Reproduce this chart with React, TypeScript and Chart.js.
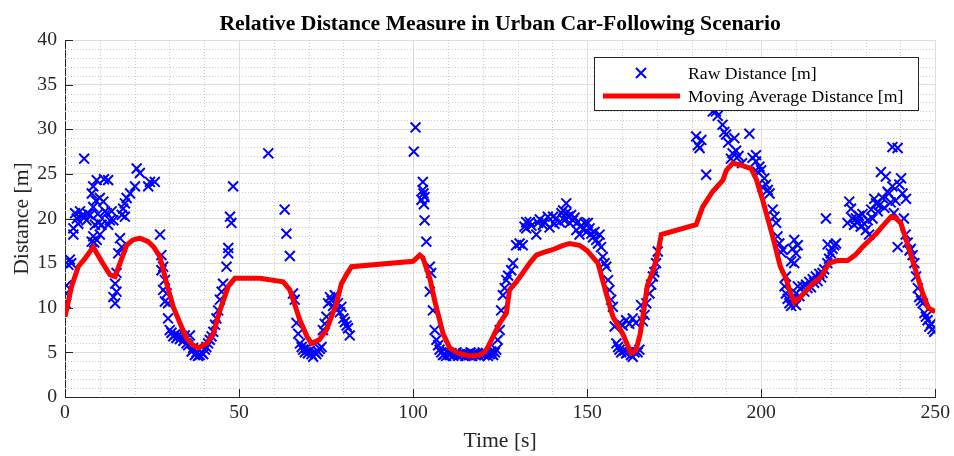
import React, { useEffect, useRef } from "react";
import { Chart, registerables } from "chart.js";

Chart.register(...registerables);

const TITLE = "Relative Distance Measure in Urban Car-Following Scenario";
const X_LABEL = "Time [s]";
const Y_LABEL = "Distance [m]";
const RAW_LABEL = "Raw Distance [m]";
const AVG_LABEL = "Moving Average Distance [m]";

const X_RANGE = [0, 250];
const X_MAJOR = 50;
const X_MINOR = 10;
const Y_RANGE = [0, 40];
const Y_MAJOR = 5;
const Y_MINOR = 1;

// [time s, distance m]
const rawSamples: [number, number][] = [
  [0.2, 10.5], [0.3, 11.6], [0.4, 12.5], [1, 14.8], [1.4, 15.4], [1.8, 15.0], [2.4, 18.2], [2.4, 18.9],
  [2.9, 20.6], [3.4, 20.0], [3.8, 19.4], [4.3, 20.8], [4.8, 20.3], [5.3, 20.2], [5.5, 26.7], [6.2, 19.8],
  [6.6, 20.5], [7.2, 20.4], [7.7, 22.8], [7.7, 17.4], [8.1, 23.6], [8.1, 21.3], [8.1, 18.0], [8.4, 17.3],
  [8.6, 19.3], [8.9, 22.0], [9.1, 24.3], [9.1, 17.6], [9.4, 20.5], [9.6, 19.5], [10, 22.3], [10, 18.2],
  [10.5, 19.3], [11, 21.9], [11.2, 24.4], [11.5, 20.8], [12, 20.6], [12.4, 24.3], [12.4, 19.3], [12.9, 19.8],
  [13.4, 20.8], [13.9, 19.8], [13.9, 11.2], [14.4, 12.7], [14.4, 10.5], [14.8, 13.9], [14.8, 11.8], [15.3, 16.1],
  [15.8, 17.8], [16.3, 16.8], [16.3, 20.4], [16.7, 21.1], [17.2, 21.7], [17.2, 20.2], [17.7, 22.3], [18.7, 22.8],
  [20.1, 23.6], [20.6, 25.6], [21.5, 25.1], [23.9, 23.6], [24.4, 24.1], [25.8, 24.1], [27.3, 18.2], [27.7, 15.9],
  [27.7, 14.2], [28.2, 14.6], [28.2, 12.0], [28.7, 13.1], [28.7, 10.7], [29.2, 11.6], [29.6, 10.5], [29.6, 8.8],
  [30.1, 7.5], [30.6, 7.2], [31.1, 6.8], [31.6, 7.0], [32, 6.6], [32.5, 6.9], [33, 6.5], [33.5, 6.8],
  [34, 6.3], [34.4, 6.9], [34.9, 6.0], [35.4, 5.8], [35.9, 6.9], [36.4, 5.1], [36.8, 5.5], [37.3, 4.7],
  [37.8, 5.0], [38.2, 4.6], [38.7, 4.7], [39.2, 5.0], [39.7, 4.8], [40.2, 5.3], [40.6, 5.6], [41.1, 6.0],
  [41.6, 6.4], [42.1, 6.8], [42.6, 7.3], [43.1, 8.1], [43.5, 8.8], [44, 9.7], [44.5, 10.9], [45, 11.8],
  [45.4, 12.7], [46.4, 14.6], [46.9, 16.1], [46.9, 16.7], [47.4, 20.2], [47.8, 19.5], [48.3, 23.6],
  [58.4, 27.3], [63.1, 21.0], [63.6, 18.3], [64.6, 15.8], [65.5, 11.6], [66, 10.9], [66.5, 8.3], [67, 7.1],
  [67.5, 6.0], [68, 5.6], [68.4, 5.3], [68.9, 5.0], [69.4, 5.5], [69.8, 4.9], [70.3, 5.2], [70.8, 4.8],
  [71.3, 4.5], [71.8, 5.0], [72.2, 4.8], [72.7, 5.1], [73.2, 5.4], [73.7, 5.6], [74.1, 7.5], [74.6, 8.2],
  [75.1, 9.0], [75.6, 10.5], [76.1, 11.2], [76.6, 10.8], [77, 10.2], [77.5, 11.4], [78, 9.8], [78.4, 10.5],
  [79, 9.5], [79.4, 10.1], [80, 8.8], [80.4, 8.4], [80.9, 8.0], [81.3, 7.7], [81.8, 6.9],
  [100.2, 27.5], [100.7, 30.2], [102.4, 22.1], [102.8, 24.1], [102.8, 23.2], [103, 22.8], [103.1, 21.6], [103.3, 22.4],
  [103.3, 19.8], [103.8, 17.4], [104.8, 14.6], [105.2, 13.9], [104.8, 11.8], [105.7, 9.7], [106.2, 7.5], [106.7, 6.4],
  [107.2, 5.8], [107.6, 5.3], [108.1, 5.0], [108.6, 4.7], [109, 4.8], [109.5, 4.6], [110, 5.0], [110.5, 4.7],
  [111, 4.9], [111.5, 4.6], [112, 4.8], [112.5, 5.0], [113, 4.6], [113.5, 4.8], [114, 4.7], [114.5, 4.9],
  [115, 4.6], [115.5, 4.8], [116, 4.7], [116.5, 5.0], [117, 4.6], [117.5, 4.8], [118, 4.7], [118.5, 4.9],
  [119, 4.6], [119.5, 4.8], [120, 5.0], [120.5, 4.7], [121, 4.9], [121.5, 4.6], [122, 4.8], [122.5, 5.1],
  [123, 4.7], [123.5, 5.0], [123.9, 5.3], [124.3, 6.4], [124.9, 7.5], [125.3, 9.7], [125.8, 11.4], [126.3, 12.2],
  [126.8, 13.1], [127.3, 13.6], [128.2, 14.2], [128.7, 15.0], [129.6, 17.0], [130.6, 17.2], [131.5, 17.0], [132, 19.1],
  [132.5, 18.9], [132.5, 19.6], [133.5, 19.6], [134, 19.2], [135.4, 18.2], [135.9, 19.5], [136.4, 19.9], [137.3, 19.3],
  [137.8, 19.6], [138.7, 20.2], [139.2, 19.0], [140.2, 20.2], [140.6, 19.4], [141.1, 20.0], [142.1, 19.6], [142.6, 20.6],
  [143.1, 20.9], [143.5, 19.8], [144, 21.7], [144, 20.6], [144.5, 20.2], [145, 19.5], [145.4, 20.4], [145.9, 19.8],
  [146.4, 20.1], [146.9, 18.7], [147.3, 19.6], [147.8, 18.2], [148.3, 19.2], [148.8, 18.8], [149.3, 19.5], [149.8, 18.5],
  [150.2, 19.5], [150.7, 18.9], [151.2, 18.3], [151.7, 17.9], [152.1, 18.5], [152.6, 17.6], [153.1, 17.2], [153.6, 18.2],
  [154, 16.8], [154.5, 15.7], [155, 15.0], [155.5, 14.6], [156, 13.1], [156.4, 12.0], [156.9, 10.9], [157.4, 10.1],
  [157.9, 7.9], [158.4, 6.0], [158.9, 5.6], [159.3, 5.3], [159.3, 8.3], [159.8, 5.0], [160.2, 8.0], [160.7, 5.2],
  [161.2, 4.9], [161.2, 8.6], [161.7, 5.0], [162.1, 8.2], [162.6, 4.7], [163.1, 4.5], [163.1, 8.8], [163.6, 5.0],
  [164, 8.3], [164.5, 5.0], [165, 5.3], [165.5, 10.3], [166, 8.5], [166.5, 9.2], [167, 10.5], [167.9, 11.6],
  [168.4, 12.6], [168.9, 13.5], [169.3, 14.0], [169.8, 15.0], [170.3, 16.3],
  [181.3, 29.2], [181.8, 28.2], [182.3, 27.9], [182.8, 28.8], [184.2, 24.9], [186.1, 32.0], [187, 32.0], [187.5, 31.5],
  [188.9, 30.5], [189.4, 29.7], [189.9, 29.4], [190.5, 28.5], [191.3, 26.7], [191.8, 27.3], [192.3, 29.0], [192.8, 27.6],
  [193.5, 27.0], [194.5, 26.2], [196.6, 29.5], [197.5, 26.8], [198.5, 27.1], [198.5, 26.4], [199, 25.2], [199.5, 25.8],
  [200, 25.4], [200.4, 23.5], [200.9, 24.5], [201.4, 23.8], [201.9, 23.2], [202.4, 22.8], [203.3, 21.0], [203.8, 20.2],
  [204.3, 19.5], [204.7, 18.0], [205.2, 17.2], [205.7, 16.2], [206.2, 16.5], [206.7, 12.4], [207.1, 13.5], [207.1, 11.6],
  [207.6, 11.0], [208.1, 10.5], [208.6, 15.2], [208.6, 10.2], [209, 16.6], [209.1, 10.9], [209.1, 11.1], [209.5, 15.0],
  [209.5, 17.6], [210, 16.1], [210, 11.6], [210, 10.3], [210.5, 17.0], [210.5, 12.4], [211, 11.3], [211.9, 12.4],
  [212.4, 11.8], [212.9, 12.6], [213.3, 12.2], [213.8, 12.9], [214.3, 12.3], [214.8, 13.2], [215.2, 12.8], [215.7, 13.5],
  [216.2, 13.0], [216.7, 13.8], [217.2, 13.4], [217.6, 13.9], [218.1, 14.3], [218.6, 20.0], [219, 15.0], [219.1, 17.1],
  [219.5, 15.5], [220, 16.1], [220.5, 16.6], [221, 17.0], [221.5, 17.2], [224.8, 19.5], [225.3, 21.9], [225.8, 21.1],
  [226.2, 20.0], [226.7, 19.3], [227.2, 20.0], [227.7, 19.6], [228.1, 20.3], [228.6, 19.1], [229.1, 20.5], [229.6, 19.4],
  [230.1, 18.7], [230.6, 19.8], [231, 18.2], [231.6, 21.0], [232, 20.0], [232.5, 22.2], [233, 21.7], [233.5, 20.8],
  [234, 21.5], [234.4, 25.2], [234.9, 22.3], [235.4, 21.2], [235.8, 24.7], [236.3, 23.0], [236.7, 22.8], [237.2, 21.8],
  [237.7, 23.6], [237.7, 28.0], [238.1, 20.6], [238.6, 22.0], [239.2, 27.9], [239.2, 16.8], [239.7, 23.8], [240.2, 24.5],
  [240.6, 22.8], [241, 20.0], [241.5, 18.2], [241.6, 22.2], [242.1, 17.3], [242.6, 16.4], [243, 16.6], [243.5, 15.9],
  [244, 15.0], [244.5, 13.5], [245, 12.2], [245.4, 11.2], [245.9, 10.8], [246.4, 10.5], [246.9, 9.4], [247.3, 9.0],
  [247.8, 8.6], [248.3, 7.9], [248.8, 8.2], [249.2, 7.6], [249.7, 7.3],
];

// [time s, moving-average distance m]
const movingAverage: [number, number][] = [
  [0, 9.0], [1.9, 12.4], [3.8, 14.6], [5.7, 15.5], [8.1, 16.8], [10.5, 15.2], [12.9, 13.7], [14.4, 13.5],
  [15.8, 15.0], [17.7, 17.0], [19.5, 17.6], [21.5, 17.8], [23.9, 17.4], [25.5, 16.8], [27.3, 15.7], [29.2, 12.7],
  [31.1, 10.1], [33, 8.3], [34.9, 6.6], [36.5, 5.9], [38.3, 5.5], [40.7, 6.0], [42.6, 7.1], [44.5, 9.7],
  [46.9, 12.4], [48.8, 13.3], [56, 13.3], [62.7, 12.9], [64.6, 12.0], [67.5, 8.6], [69.5, 6.8], [70.8, 6.0],
  [73, 6.4], [75.1, 7.5], [78, 10.5], [79.4, 12.7], [81, 13.8], [82.3, 14.6], [100, 15.2], [101.9, 15.9],
  [102.8, 15.6], [104.8, 13.3], [106.2, 10.8], [108.6, 7.1], [110.5, 5.5], [113, 4.9], [116.2, 4.6], [119, 4.7],
  [120.5, 5.0], [121.5, 5.6], [123, 6.8], [124.9, 8.3], [126.8, 9.4], [127.7, 12.0], [129.5, 12.8], [131.5, 13.9],
  [133.5, 15.0], [135.4, 15.9], [137.5, 16.2], [140.1, 16.5], [142.5, 16.9], [144.9, 17.2], [147.8, 17.0], [150, 16.4],
  [153.1, 15.0], [155.5, 11.6], [157.4, 9.0], [160.2, 7.1], [162.6, 4.9], [164, 5.2], [165.2, 7.0], [166.2, 9.5],
  [167.3, 12.5], [169, 14.2], [170.3, 16.1], [171.3, 18.2], [181.3, 19.3], [183.2, 21.3], [186, 23.0], [189, 24.3],
  [190, 25.4], [191.8, 26.2], [194, 26.0], [197.1, 25.6], [198.5, 24.5], [200.4, 22.1], [203.3, 18.0], [205.5, 14.6],
  [207.1, 13.3], [208.3, 11.8], [209.5, 10.6], [210.5, 10.9], [212, 11.5], [214.8, 12.7], [217, 13.4], [219.6, 15.0],
  [222, 15.3], [224.8, 15.3], [227, 15.9], [229.1, 16.8], [233, 18.3], [235, 19.2], [237.3, 20.2], [238.5, 20.1],
  [240.1, 19.5], [241.5, 17.8], [243.5, 15.3], [246.4, 11.6], [248, 10.0], [249.2, 9.7], [250, 9.6],
];

const SERIF = "'Liberation Serif', 'Times New Roman', serif";
const AXIS_COLOR = "#262626";

const decorPlugin = {
  id: "matlabDecor",
  beforeDatasetsDraw(chart: any) {
    const { ctx, chartArea: a, scales } = chart;
    const x = scales.x;
    const y = scales.y;
    ctx.save();
    ctx.strokeStyle = "#cbcbcb";
    ctx.lineWidth = 1;
    ctx.setLineDash([1, 2]);
    for (let v = X_RANGE[0] + X_MINOR; v < X_RANGE[1]; v += X_MINOR) {
      if (v % X_MAJOR === 0) continue;
      const px = Math.round(x.getPixelForValue(v)) + 0.5;
      ctx.beginPath();
      ctx.moveTo(px, a.top);
      ctx.lineTo(px, a.bottom);
      ctx.stroke();
    }
    for (let v = Y_RANGE[0] + Y_MINOR; v < Y_RANGE[1]; v += Y_MINOR) {
      if (v % Y_MAJOR === 0) continue;
      const py = Math.round(y.getPixelForValue(v)) + 0.5;
      ctx.beginPath();
      ctx.moveTo(a.left, py);
      ctx.lineTo(a.right, py);
      ctx.stroke();
    }
    ctx.setLineDash([]);
    ctx.strokeStyle = AXIS_COLOR;
    for (let v = X_RANGE[0]; v <= X_RANGE[1]; v += X_MAJOR) {
      const px = Math.round(x.getPixelForValue(v)) + 0.5;
      ctx.beginPath();
      ctx.moveTo(px, a.bottom);
      ctx.lineTo(px, a.bottom - 8);
      ctx.stroke();
    }
    for (let v = Y_RANGE[0]; v <= Y_RANGE[1]; v += Y_MAJOR) {
      const py = Math.round(y.getPixelForValue(v)) + 0.5;
      ctx.beginPath();
      ctx.moveTo(a.left, py);
      ctx.lineTo(a.left + 8, py);
      ctx.stroke();
    }
    ctx.restore();
  },
  afterDraw(chart: any) {
    const { ctx, chartArea: a } = chart;
    ctx.save();
    // title
    ctx.fillStyle = "#000";
    ctx.font = `bold 21.7px ${SERIF}`;
    ctx.textAlign = "center";
    ctx.textBaseline = "middle";
    ctx.fillText(TITLE, (a.left + a.right) / 2, 24);
    // legend
    const lx = 594, ly = 57, lw = 324, lh = 53;
    ctx.fillStyle = "#fff";
    ctx.fillRect(lx, ly, lw, lh);
    ctx.strokeStyle = AXIS_COLOR;
    ctx.lineWidth = 1;
    ctx.strokeRect(lx + 0.5, ly + 0.5, lw, lh);
    // raw marker
    const mx = 641, my = 73, r = 5;
    ctx.strokeStyle = "#0000ff";
    ctx.lineWidth = 2;
    ctx.beginPath();
    ctx.moveTo(mx - r, my - r);
    ctx.lineTo(mx + r, my + r);
    ctx.moveTo(mx - r, my + r);
    ctx.lineTo(mx + r, my - r);
    ctx.stroke();
    // avg line
    ctx.strokeStyle = "#ff0000";
    ctx.lineWidth = 5;
    ctx.beginPath();
    ctx.moveTo(603, 96);
    ctx.lineTo(680, 96);
    ctx.stroke();
    ctx.fillStyle = "#000";
    ctx.font = `17.7px ${SERIF}`;
    ctx.textAlign = "left";
    ctx.textBaseline = "middle";
    ctx.fillText(RAW_LABEL, 688, 74);
    ctx.fillText(AVG_LABEL, 688, 97);
    ctx.restore();
  },
};

export default function App() {
  const canvasRef = useRef<HTMLCanvasElement | null>(null);

  useEffect(() => {
    const canvas = canvasRef.current;
    if (!canvas) return;
    const chart = new Chart(canvas, {
      type: "scatter",
      data: {
        datasets: [
          {
            type: "line",
            label: AVG_LABEL,
            data: movingAverage.map(([t, d]) => ({ x: t, y: d })),
            borderColor: "#ff0000",
            backgroundColor: "#ff0000",
            borderWidth: 5,
            pointRadius: 0,
            tension: 0,
            fill: false,
            order: 0,
          } as any,
          {
            type: "scatter",
            label: RAW_LABEL,
            data: rawSamples.map(([t, d]) => ({ x: t, y: d })),
            pointStyle: "crossRot",
            pointRadius: 7,
            pointBorderWidth: 2,
            borderColor: "#0000ff",
            backgroundColor: "#0000ff",
            showLine: false,
            order: 1,
          } as any,
        ],
      },
      options: {
        responsive: false,
        animation: false,
        devicePixelRatio: 1,
        layout: { padding: { top: 40, right: 18, left: 0, bottom: 0 } },
        plugins: {
          legend: { display: false },
          tooltip: { enabled: false },
          title: { display: false },
        },
        scales: {
          x: {
            type: "linear",
            min: X_RANGE[0],
            max: X_RANGE[1],
            afterFit: (s: any) => {
              s.height = 59;
            },
            ticks: {
              stepSize: X_MAJOR,
              padding: 4,
              color: AXIS_COLOR,
              font: { family: SERIF, size: 19.7 },
              maxRotation: 0,
            },
            grid: { color: "#dedede", drawTicks: false, lineWidth: 1 },
            border: { display: true, color: AXIS_COLOR, width: 1 },
            title: {
              display: true,
              text: X_LABEL,
              color: AXIS_COLOR,
              font: { family: SERIF, size: 21.7 },
              padding: { top: 0, bottom: 2 },
            },
          },
          y: {
            type: "linear",
            min: Y_RANGE[0],
            max: Y_RANGE[1],
            afterFit: (s: any) => {
              s.width = 65;
            },
            ticks: {
              stepSize: Y_MAJOR,
              padding: 8,
              color: AXIS_COLOR,
              font: { family: SERIF, size: 19.7 },
            },
            grid: { color: "#dedede", drawTicks: false, lineWidth: 1 },
            border: { display: true, color: AXIS_COLOR, width: 1 },
            title: {
              display: true,
              text: Y_LABEL,
              color: AXIS_COLOR,
              font: { family: SERIF, size: 21.7 },
              padding: { top: 9, bottom: 0 },
            },
          },
        },
      },
      plugins: [decorPlugin],
    });
    return () => chart.destroy();
  }, []);

  return (
    <div style={{ position: "fixed", left: 0, top: 0, width: 954, height: 456, background: "#fff" }}>
      <canvas ref={canvasRef} width={954} height={456} style={{ display: "block" }} />
    </div>
  );
}
